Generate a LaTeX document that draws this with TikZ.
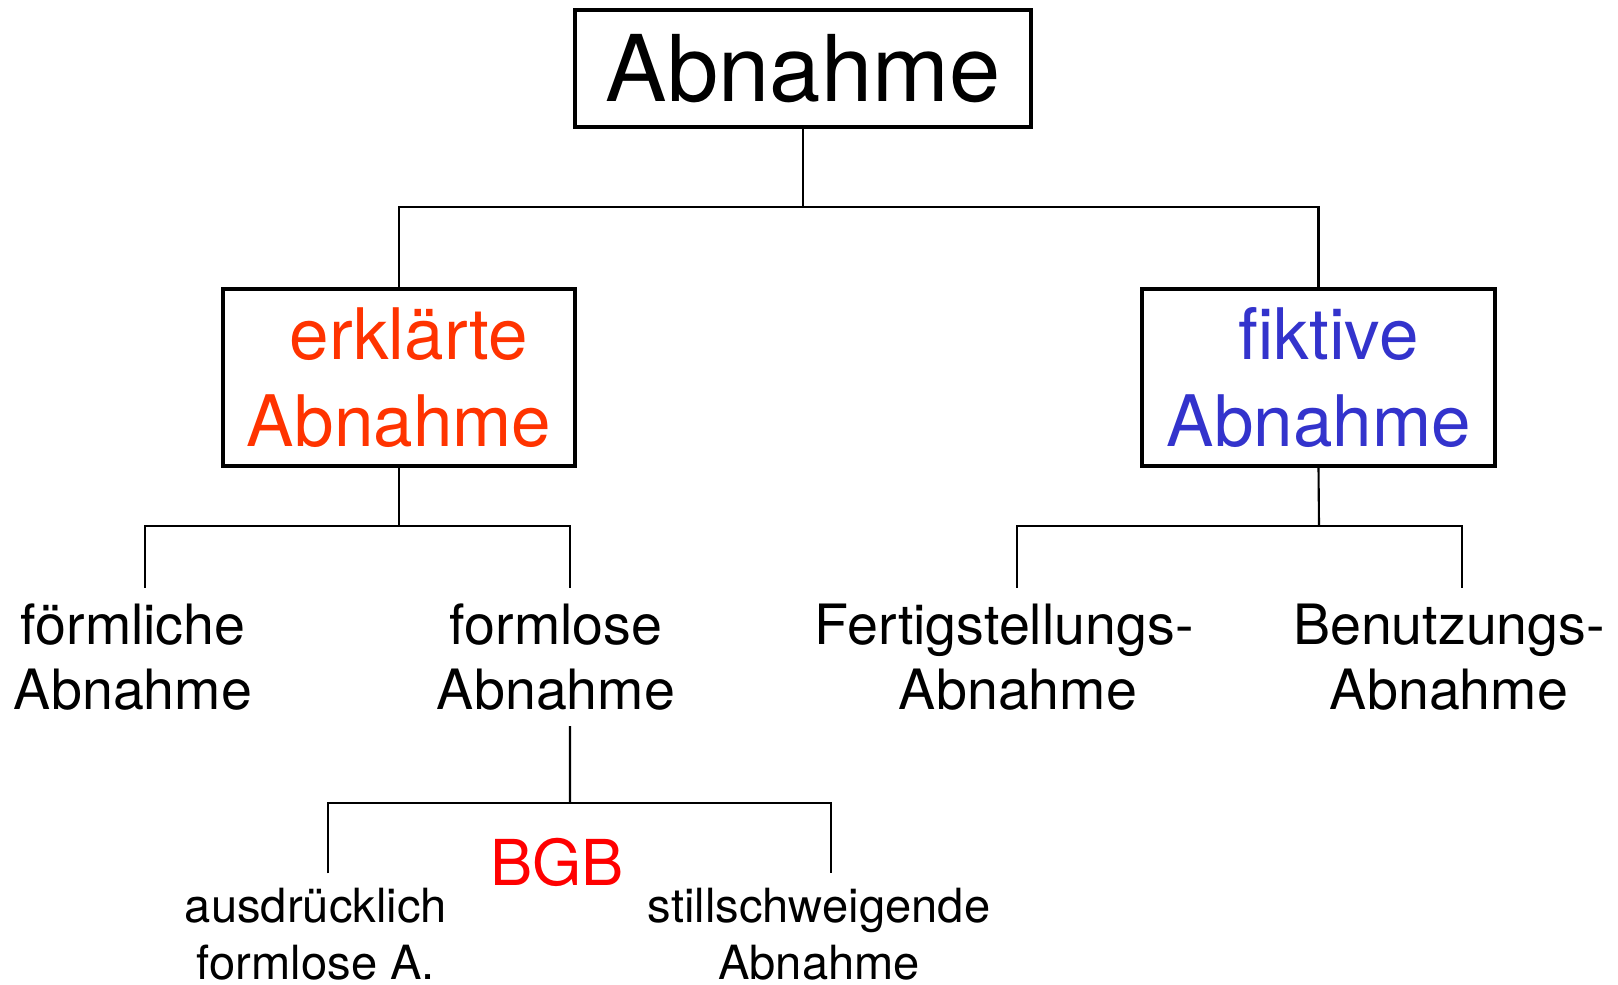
\documentclass[tikz,border=0pt]{standalone}
\usepackage{fontspec}
\setmainfont{TeX Gyre Heros}
\usetikzlibrary{calc}
\definecolor{erkred}{RGB}{255,51,0}
\definecolor{fikblue}{RGB}{51,51,204}

\begin{document}
\begin{tikzpicture}[x=0.01cm,y=-0.01cm,
    box/.style={draw,line width=0.95pt,inner sep=0pt,align=center},
    leaf/.style={align=center,inner xsep=0pt,inner ysep=4.3pt,font=\fontsize{15.8}{18.5}\selectfont},
    small/.style={align=center,inner sep=0pt,font=\fontsize{13.4}{16.2}\selectfont},
    con/.style={line width=0.6pt}]
    \useasboundingbox (0,0) rectangle (1618,984);

    \node[box,minimum width=4.56cm,minimum height=1.17cm,font=\fontsize{26.2}{30}\selectfont] (abn) at (803,68.5) {Abnahme};
    \node[box,minimum width=3.52cm,minimum height=1.77cm,text=erkred,font=\fontsize{20.2}{24.7}\selectfont] (erk) at (399,377.5) {\ erklärte\\Abnahme};
    \node[box,minimum width=3.53cm,minimum height=1.77cm,text=fikblue,font=\fontsize{20.2}{24.7}\selectfont] (fik) at (1318.5,377.5) {\ fiktive\\Abnahme};

    \node[leaf] (foerm) at (133,657) {förmliche\\Abnahme};
    \node[leaf] (forml) at (556,657) {formlose\\Abnahme};
    \node[leaf] (fertig) at (1004,657) {Fertigstellungs-\\\hspace*{.28cm}Abnahme};
    \node[leaf] (benutz) at (1449,657) {Benutzungs-\\Abnahme};

    \node[small] (ausdr) at (316,934) {ausdrücklich\\formlose A.};
    \node[small] (still) at (819,934) {stillschweigende\\Abnahme};
    \node[text=red,inner sep=0pt,font=\fontsize{18}{20}\selectfont] (bgb) at (557,862) {BGB};

    \coordinate (b1) at (803,207);
    \coordinate (b2) at (399,526);
    \coordinate (b3) at (1319,526);
    \coordinate (b4) at (570,803);

    \draw[con] (abn.south) -- (b1);
    \draw[con] (erk.north) |- (b1) -| (fik.north);
    \draw[con] (erk.south) -- (b2);
    \draw[con] ([xshift=.12cm]foerm.north) |- (b2) -| ([xshift=.14cm]forml.north);
    \draw[con] (fik.south) -- (b3);
    \draw[con] ([xshift=.13cm]fertig.north) |- (b3) -| ([xshift=.13cm]benutz.north);
    \draw[con] ([xshift=.14cm]forml.south) -- (b4);
    \draw[con] ([xshift=.12cm,yshift=.14cm]ausdr.north) |- (b4) -| ([xshift=.12cm,yshift=.14cm]still.north);
\end{tikzpicture}
\end{document}
